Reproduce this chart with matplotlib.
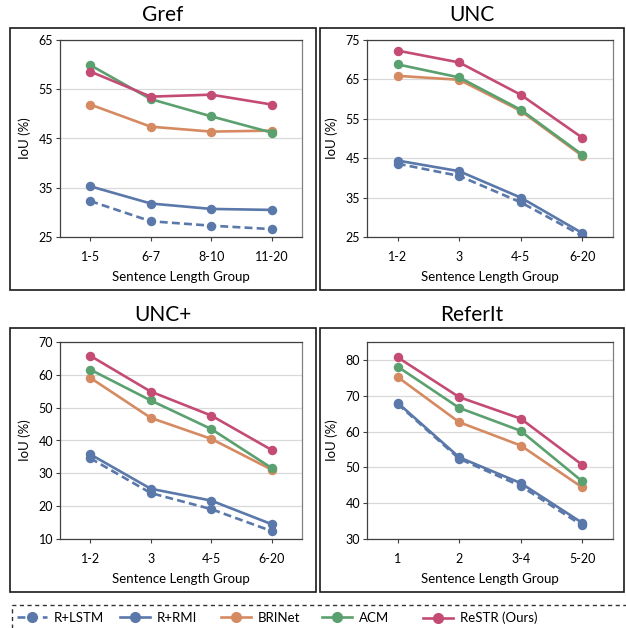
import matplotlib
matplotlib.use("Agg")
import matplotlib.pyplot as plt
from matplotlib.patches import Rectangle
from matplotlib.lines import Line2D

plt.rcParams['font.family'] = ['Lato', 'DejaVu Sans']

methods = ["R+LSTM", "R+RMI", "BRINet", "ACM", "ReSTR (Ours)"]
colors = ["#5A78AA", "#5A78AA", "#D68A62", "#5BA06F", "#C44C74"]
styles = ["--", "-", "-", "-", "-"]

gref_groups = ["1-5", "6-7", "8-10", "11-20"]
gref_lstm = [32.3, 28.2, 27.3, 26.6]
gref_rmi = [35.3, 31.8, 30.7, 30.5]
gref_brinet = [51.9, 47.4, 46.4, 46.6]
gref_acm = [59.9, 53.0, 49.5, 46.2]
gref_restr = [58.6, 53.5, 53.9, 51.9]

unc_groups = ["1-2", "3", "4-5", "6-20"]
unc_lstm = [43.6, 40.5, 33.8, 25.3]
unc_rmi = [44.4, 41.7, 35.0, 26.0]
unc_brinet = [65.9, 64.9, 57.0, 45.6]
unc_acm = [68.8, 65.5, 57.3, 45.9]
unc_restr = [72.3, 69.3, 61.1, 50.2]

uncp_groups = ["1-2", "3", "4-5", "6-20"]
uncp_lstm = [34.6, 24.0, 19.1, 12.4]
uncp_rmi = [35.8, 25.3, 21.7, 14.5]
uncp_brinet = [59.1, 46.9, 40.5, 31.1]
uncp_acm = [61.6, 52.2, 43.5, 31.6]
uncp_restr = [65.8, 54.9, 47.6, 37.1]

referit_groups = ["1", "2", "3-4", "5-20"]
referit_lstm = [67.7, 52.4, 44.8, 33.8]
referit_rmi = [68.0, 52.8, 45.6, 34.5]
referit_brinet = [75.2, 62.6, 56.1, 44.4]
referit_acm = [78.1, 66.6, 60.2, 46.1]
referit_restr = [80.7, 69.6, 63.6, 50.7]

W, H = 626, 628
fig = plt.figure(figsize=(W / 100, H / 100), dpi=100)


def rect(x0, y0, x1, y1):
    return [x0 / W, 1 - y1 / H, (x1 - x0) / W, (y1 - y0) / H]


panels = [
    dict(title="Gref", groups=gref_groups,
         data=[gref_lstm, gref_rmi, gref_brinet, gref_acm, gref_restr],
         ylim=(25, 65), yticks=[25, 35, 45, 55, 65],
         box=(10, 28, 316, 290), area=(60, 40, 302, 237), ty=15),
    dict(title="UNC", groups=unc_groups,
         data=[unc_lstm, unc_rmi, unc_brinet, unc_acm, unc_restr],
         ylim=(25, 75), yticks=[25, 35, 45, 55, 65, 75],
         box=(320, 28, 624, 290), area=(367, 40, 613, 237), ty=15),
    dict(title="UNC+", groups=uncp_groups,
         data=[uncp_lstm, uncp_rmi, uncp_brinet, uncp_acm, uncp_restr],
         ylim=(10, 70), yticks=[10, 20, 30, 40, 50, 60, 70],
         box=(10, 328, 316, 592), area=(60, 342, 302, 539), ty=315),
    dict(title="ReferIt", groups=referit_groups,
         data=[referit_lstm, referit_rmi, referit_brinet, referit_acm, referit_restr],
         ylim=(30, 85), yticks=[30, 40, 50, 60, 70, 80],
         box=(320, 328, 624, 592), area=(367, 342, 613, 539), ty=315),
]

for p in panels:
    bx0, by0, bx1, by1 = p["box"]
    fig.patches.append(Rectangle((bx0 / W, 1 - by1 / H), (bx1 - bx0) / W, (by1 - by0) / H,
                                 transform=fig.transFigure, fill=False,
                                 edgecolor="#1a1a1a", lw=1.2))
    fig.text((bx0 + bx1) / 2 / W, 1 - p["ty"] / H, p["title"], ha="center", va="center",
             fontsize=15)
    ax = fig.add_axes(rect(*p["area"]))
    x = list(range(len(p["groups"])))
    for vals, c, ls in zip(p["data"], colors, styles):
        ax.plot(x, vals, color=c, ls=ls, lw=1.9, marker="o", markersize=5.8,
                dashes=(3, 1.6) if ls == "--" else (None, None))
    ax.set_xlim(-0.5, len(x) - 0.5)
    ax.set_ylim(*p["ylim"])
    ax.set_yticks(p["yticks"])
    ax.set_xticks(x)
    ax.set_xticklabels(p["groups"])
    ax.yaxis.grid(True, color="#D9D9D9", lw=0.9)
    ax.set_axisbelow(True)
    for s in ax.spines.values():
        s.set_color("#404040")
        s.set_linewidth(0.9)
    ax.spines["right"].set_color("#808080")
    ax.tick_params(axis="both", labelsize=9, length=3, width=0.8, color="#404040",
                   pad=2)
    ax.tick_params(axis="x", pad=7)
    ax.set_xlabel("Sentence Length Group", fontsize=9.5, labelpad=6)
    ax.set_ylabel("IoU (%)", fontsize=9.5, labelpad=5)

# Legend: five evenly spaced entries
legend_x = [17, 120, 221, 322, 423]
for name, c, ls, lx in zip(methods, colors, styles, legend_x):
    h = Line2D([], [], color=c, ls=ls, lw=1.9, marker="o", markersize=7,
               dashes=(3, 1.8) if ls == "--" else (None, None))
    leg = fig.legend([h], [name], loc="center left",
                     bbox_to_anchor=(lx / W, 1 - 618 / H), frameon=False,
                     fontsize=9.5, handlelength=2.3, handletextpad=0.5,
                     borderpad=0, borderaxespad=0)
fig.patches.append(Rectangle((12 / W, -0.02), 0.99, (1 - 605 / H) + 0.02,
                             transform=fig.transFigure, fill=False,
                             edgecolor="#333333", lw=1.0, ls=(0, (3, 2.5))))

fig.savefig("out.png", dpi=100)
